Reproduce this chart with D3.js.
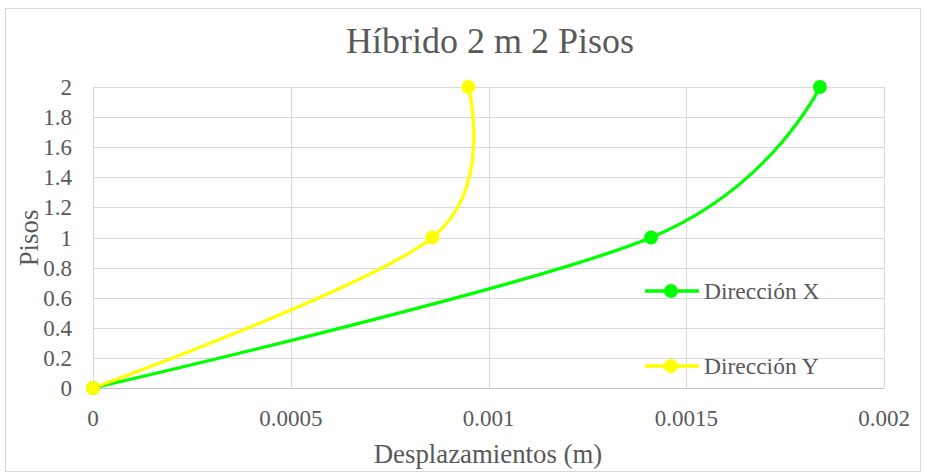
<!DOCTYPE html>
<html><head><meta charset="utf-8">
<script src="https://cdn.jsdelivr.net/npm/d3@7"></script>
<style>body{margin:0;background:#fff}</style>
</head><body><svg id="c" width="926" height="475"></svg>
<script>
const title = "Híbrido 2 m 2 Pisos";
const xTitle = "Desplazamientos (m)";
const yTitle = "Pisos";
const floors = [0, 1, 2];
const dirX = [0, 0.001411, 0.001838];
const dirY = [0, 0.000858, 0.000949];
const seriesNames = ["Dirección X", "Dirección Y"];
const seriesColors = ["#00ff00", "#ffff00"];
const xTicks = [0, 0.0005, 0.001, 0.0015, 0.002];
const xTickLabels = ["0", "0.0005", "0.001", "0.0015", "0.002"];
const yTicks = [0, 0.2, 0.4, 0.6, 0.8, 1, 1.2, 1.4, 1.6, 1.8, 2];
const yTickLabels = ["0", "0.2", "0.4", "0.6", "0.8", "1", "1.2", "1.4", "1.6", "1.8", "2"];

const FONT = "'Liberation Serif', 'Times New Roman', serif";
const svg = d3.select("#c").attr("font-family", FONT);
svg.append("rect").attr("x",5.5).attr("y",8.5).attr("width",915).attr("height",463)
  .attr("fill","#fff").attr("stroke","#d9d9d9").attr("stroke-width",1);

const x = d3.scaleLinear().domain([0,0.002]).range([93,884]);
const y = d3.scaleLinear().domain([0,2]).range([388,87]);

const g = svg.append("g");
g.selectAll(".hg").data(yTicks).join("line")
  .attr("x1",x(0)).attr("x2",x(0.002)).attr("y1",d=>Math.round(y(d))+0.5).attr("y2",d=>Math.round(y(d))+0.5)
  .attr("stroke","#d9d9d9").attr("stroke-width",1);
g.selectAll(".vg").data(xTicks).join("line")
  .attr("y1",y(0)).attr("y2",y(2)).attr("x1",d=>Math.round(x(d))+0.5).attr("x2",d=>Math.round(x(d))+0.5)
  .attr("stroke","#d9d9d9").attr("stroke-width",1);
g.append("line").attr("x1",x(0)).attr("x2",x(0.002)).attr("y1",Math.round(y(0))+0.5).attr("y2",Math.round(y(0))+0.5)
  .attr("stroke","#bfbfbf").attr("stroke-width",1);

const txt = sel => sel.attr("font-family", FONT).attr("fill", "#595959");
svg.selectAll(".yl").data(yTicks).join("text").call(txt)
  .attr("x",72).attr("y",d=>y(d)).attr("dy","0.35em").attr("text-anchor","end")
  .attr("font-size",23).text((d,i)=>yTickLabels[i]);
svg.selectAll(".xl").data(xTicks).join("text").call(txt)
  .attr("x",d=>x(d)).attr("y",426).attr("text-anchor","middle")
  .attr("font-size",23).text((d,i)=>xTickLabels[i]);

svg.append("text").call(txt).attr("x",490).attr("y",53).attr("text-anchor","middle").attr("font-size",36).text(title);
svg.append("text").call(txt).attr("x",488).attr("y",463).attr("text-anchor","middle").attr("font-size",26.8).text(xTitle);
svg.append("text").call(txt).attr("transform","translate(37.5,238) rotate(-90)").attr("text-anchor","middle").attr("font-size",26.8).text(yTitle);

const line = d3.line().x(d=>x(d[0])).y(d=>y(d[1])).curve(d3.curveCatmullRom.alpha(0));
const data = [dirX, dirY].map(v => v.map((xv,i)=>[xv, floors[i]]));
data.forEach((pts,i)=>{
  svg.append("path").attr("d",line(pts)).attr("fill","none").attr("stroke",seriesColors[i]).attr("stroke-width",3.3);
});
data.forEach((pts,i)=>{
  svg.selectAll(null).data(pts).join("circle").attr("cx",d=>x(d[0])).attr("cy",d=>y(d[1])).attr("r",7)
    .attr("fill",seriesColors[i]);
});

const leg = [291, 366];
seriesNames.forEach((n,i)=>{
  svg.append("line").attr("x1",645).attr("x2",699).attr("y1",leg[i]).attr("y2",leg[i]).attr("stroke",seriesColors[i]).attr("stroke-width",3.3);
  svg.append("circle").attr("cx",671).attr("cy",leg[i]).attr("r",7).attr("fill",seriesColors[i]);
  svg.append("text").call(txt).attr("x",704).attr("y",leg[i]).attr("dy","0.35em").attr("font-size",23.5).text(n);
});
</script></body></html>
